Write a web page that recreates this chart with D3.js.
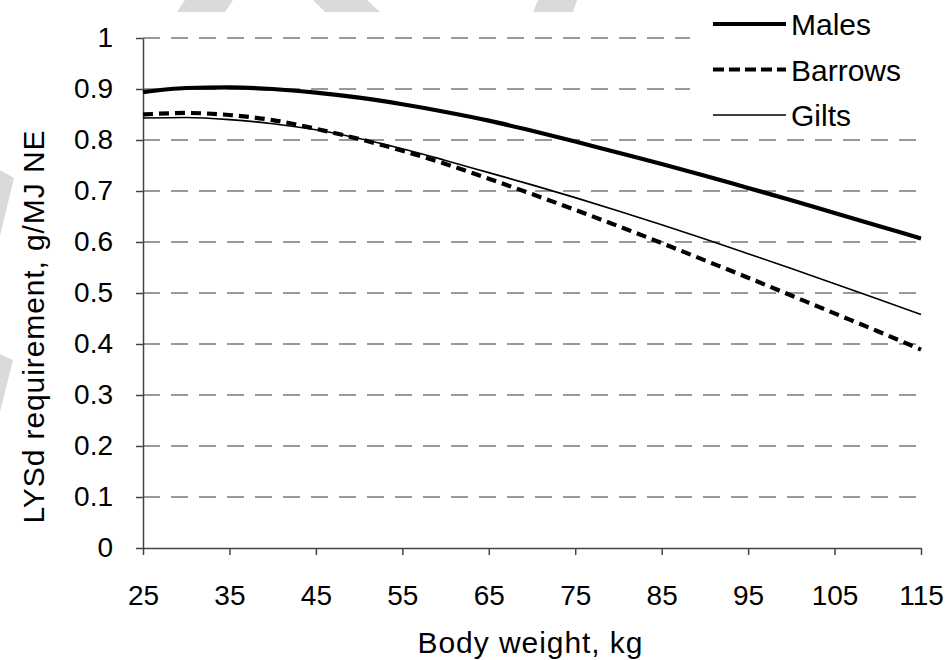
<!DOCTYPE html>
<html>
<meta charset="utf-8">
<head>
<title>LYSd requirement by body weight</title>
<style>
body { margin: 0; background: #fff; }
.grid line { stroke: #999; stroke-width: 2px; stroke-dasharray: 17,11; }
.axis path, .axis line { stroke: #444; stroke-width: 1.5px; }
.line { fill: none; stroke: #000; }
</style>
</head>
<body>
<script src="https://cdn.jsdelivr.net/npm/d3@7"></script>
<script>

// body weight, kg
var weights = [25, 30, 35, 40, 45, 50, 55, 60, 65, 70, 75, 80, 85, 90, 95, 100, 105, 110, 115];
// LYSd requirement, g/MJ NE
var males   = [0.894, 0.902, 0.903, 0.900, 0.893, 0.883, 0.870, 0.855, 0.838, 0.818, 0.797, 0.775, 0.753, 0.730, 0.706, 0.682, 0.657, 0.632, 0.607];
var barrows = [0.850, 0.853, 0.849, 0.839, 0.822, 0.802, 0.779, 0.753, 0.724, 0.694, 0.663, 0.631, 0.598, 0.564, 0.530, 0.495, 0.460, 0.425, 0.389];
var gilts   = [0.843, 0.844, 0.840, 0.832, 0.820, 0.803, 0.783, 0.760, 0.736, 0.712, 0.687, 0.661, 0.634, 0.606, 0.577, 0.548, 0.518, 0.488, 0.458];
var xTicks = [25, 35, 45, 55, 65, 75, 85, 95, 105, 115];
var yTicks = [0, 0.1, 0.2, 0.3, 0.4, 0.5, 0.6, 0.7, 0.8, 0.9, 1];
var seriesNames = ["Males", "Barrows", "Gilts"];

var W = 949, H = 660;
var font = "Arial, 'Liberation Sans', sans-serif";
var margin = {top: 38, right: 28, bottom: 112, left: 143},
    width = W - margin.left - margin.right,
    height = H - margin.top - margin.bottom;

var svg = d3.select("body").append("svg")
    .attr("width", W)
    .attr("height", H);

// faint background marks
var marks = [
  [[177,12],[185,0],[233,0],[225,12]],
  [[325,12],[313,0],[367,0],[380,12]],
  [[533,12],[538,0],[577,0],[573,12]],
  [[0,170],[14,178],[0,236]],
  [[0,354],[13,360],[0,412]]
];
svg.selectAll(".wm").data(marks).enter().append("polygon")
    .attr("class", "wm")
    .attr("points", function(d) { return d.map(function(p) { return p.join(","); }).join(" "); })
    .style("fill", "#dadada");

var g = svg.append("g")
    .attr("transform", "translate(" + margin.left + "," + margin.top + ")");

var x = d3.scaleLinear().domain([25, 115]).range([0, width]);
var y = d3.scaleLinear().domain([0, 1]).range([height, 0]);

// gridlines
g.append("g").attr("class", "grid")
  .selectAll("line").data(yTicks.filter(function(d) { return d > 0; })).enter()
  .append("line")
    .attr("x1", 0).attr("x2", width)
    .attr("y1", function(d) { return y(d); })
    .attr("y2", function(d) { return y(d); });

// axes
var xAxis = g.append("g").attr("class", "axis")
    .attr("transform", "translate(0," + height + ")")
    .call(d3.axisBottom(x).tickValues(xTicks).tickSize(7).tickPadding(30).tickSizeOuter(0));
xAxis.attr("font-size", 28).attr("font-family", font);
xAxis.selectAll("text").attr("dy", "0.71em");

var yAxis = g.append("g").attr("class", "axis")
    .call(d3.axisLeft(y).tickValues(yTicks).tickSize(7).tickPadding(23).tickSizeOuter(0)
      .tickFormat(function(d) { return d === 0 || d === 1 ? d : d.toFixed(1); }));
yAxis.attr("font-size", 28).attr("font-family", font);

// curves
var line = d3.line()
    .x(function(d, i) { return x(weights[i]); })
    .y(function(d) { return y(d); })
    .curve(d3.curveMonotoneX);

g.append("path").datum(gilts).attr("class", "line")
    .attr("d", line).style("stroke-width", 1.6);
g.append("path").datum(barrows).attr("class", "line")
    .attr("d", line).style("stroke-width", 4.2).style("stroke-dasharray", "10,6");
g.append("path").datum(males).attr("class", "line")
    .attr("d", line).style("stroke-width", 4.2);

// legend
var legend = svg.append("g").attr("transform", "translate(690,0)");
legend.append("rect")
    .attr("width", 259).attr("height", 130)
    .style("fill", "#fff");
var styles = [{w: 4, dash: null}, {w: 4, dash: "11,5"}, {w: 1.6, dash: null}];
seriesNames.forEach(function(name, i) {
  var ly = 24 + i * 45.5;
  legend.append("line")
      .attr("x1", 23).attr("x2", 96)
      .attr("y1", ly).attr("y2", ly)
      .style("stroke", "#000")
      .style("stroke-width", styles[i].w)
      .style("stroke-dasharray", styles[i].dash);
  legend.append("text")
      .attr("x", 101).attr("y", ly + 11)
      .attr("font-family", font)
      .attr("font-size", 30)
      .text(name);
});

// axis titles
svg.append("text")
    .attr("x", 530)
    .attr("y", 653)
    .attr("text-anchor", "middle")
    .attr("font-family", font)
    .attr("font-size", 30)
    .attr("textLength", 225)
    .text("Body weight, kg");

svg.append("text")
    .attr("transform", "translate(44,327) rotate(-90)")
    .attr("text-anchor", "middle")
    .attr("font-family", font)
    .attr("font-size", 30)
    .attr("textLength", 393)
    .text("LYSd requirement, g/MJ NE");

</script>
</body>
</html>
